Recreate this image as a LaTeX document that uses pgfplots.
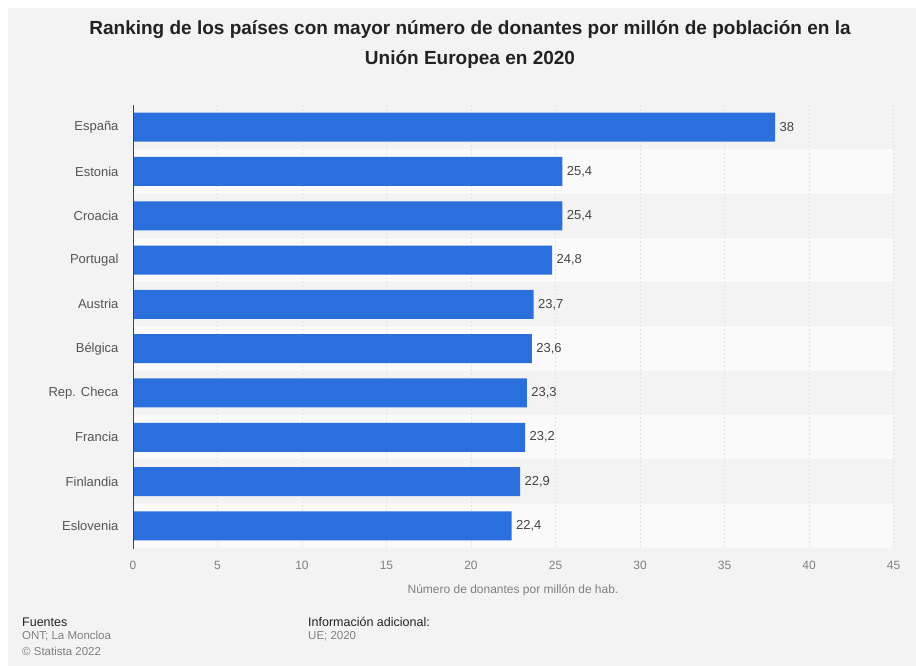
\documentclass[border=0pt]{standalone}
\usepackage{fontspec}
\setmainfont{Liberation Sans}
\usepackage{pgfplots}
\pgfplotsset{compat=1.18}
\usepackage{pgfplotstable}
\definecolor{bg}{HTML}{F3F3F3}
\definecolor{band}{HTML}{FAFAFA}
\definecolor{barblue}{HTML}{2A6FDB}
\definecolor{titlecol}{HTML}{222222}
\definecolor{labgray}{HTML}{555555}
\definecolor{tickgray}{HTML}{808080}
\definecolor{valgray}{HTML}{444444}
\definecolor{gridgray}{HTML}{E3E3E3}
\definecolor{axisgray}{HTML}{444444}
\pgfplotstableread{
idx value
0 38
1 25.4
2 25.4
3 24.8
4 23.7
5 23.6
6 23.3
7 23.2
8 22.9
9 22.4
}\datatable
\begin{document}
\begin{tikzpicture}[x=1pt,y=1pt]
\fill[white] (0,0) rectangle (916,666);
\fill[bg] (8,0) rectangle (916,658);
\foreach \i in {1,3,5,7,9} {
  \fill[band] (133,{561-44.3*\i}) rectangle (893.5,{561-44.3*(\i+1)});
}
\node[font=\bfseries\fontsize{19}{30}\selectfont, text=titlecol, align=center] at (470,621)
  {Ranking de los países con mayor número de donantes por millón de población en la\\Unión Europea en 2020};
\begin{axis}[
  at={(133pt,118pt)}, anchor=south west,
  width=760.5pt, height=443pt, scale only axis,
  xmin=0, xmax=45, ymin=-0.5, ymax=9.5, y dir=reverse,
  xbar, bar width=29pt,
  xtick={0,5,...,45}, ytick={0,...,9},
  yticklabels={España,Estonia,Croacia,Portugal,Austria,Bélgica,{Rep. Checa},Francia,Finlandia,Eslovenia},
  xmajorgrids, ymajorgrids=false,
  grid style={gridgray, dash pattern=on 2pt off 2pt, line width=0.6pt},
  axis line style={draw=none},
  major tick length=0,
  tick label style={/pgf/number format/assume math mode=true},
  xticklabel style={font=\fontsize{12}{14}\selectfont, text=tickgray, yshift=-10pt},
  yticklabel style={font=\fontsize{13}{15}\selectfont, text=labgray, xshift=-11pt},
  point meta=x,
  nodes near coords,
  every node near coord/.append style={font=\fontsize{13}{15}\selectfont, text=valgray, xshift=1pt,
    /pgf/number format/.cd, assume math mode=true, use comma, fixed, precision=1},
]
\addplot[fill=barblue, draw=none] table[x=value, y=idx] {\datatable};
\draw[axisgray, line width=0.8pt] (axis cs:0,-0.55) -- (axis cs:0,9.58);
\end{axis}
\node[font=\fontsize{12}{14}\selectfont, text=tickgray] at (513,76) {Número de donantes por millón de hab.};
\node[anchor=west, font=\fontsize{12.5}{14}\selectfont, text=titlecol, inner sep=0] at (22,44) {Fuentes};
\node[anchor=west, font=\fontsize{11.5}{14}\selectfont, text=tickgray, inner sep=0] at (22,30) {ONT; La Moncloa};
\node[anchor=west, font=\fontsize{11.5}{14}\selectfont, text=tickgray, inner sep=0] at (22,15) {© Statista 2022};
\node[anchor=west, font=\fontsize{12.5}{14}\selectfont, text=titlecol, inner sep=0] at (308,44) {Información adicional:};
\node[anchor=west, font=\fontsize{11.5}{14}\selectfont, text=tickgray, inner sep=0] at (308,30) {UE; 2020};
\end{tikzpicture}
\end{document}
